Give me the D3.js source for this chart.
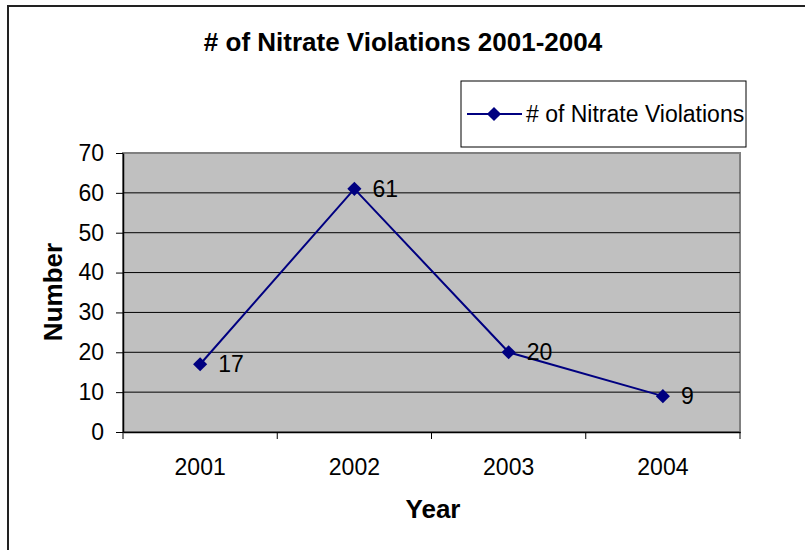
<!DOCTYPE html>
<html>
<head>
<meta charset="utf-8">
<script src="https://cdn.jsdelivr.net/npm/d3@7"></script>
<style>
  html, body { margin: 0; padding: 0; background: #fff; }
  svg { display: block; font-family: "Liberation Sans", Arial, sans-serif; }
</style>
</head>
<body>
<svg id="chart" width="805" height="550"></svg>
<script>
const years = ["2001", "2002", "2003", "2004"];
const violations = [17, 61, 20, 9];
const yTickValues = [0, 10, 20, 30, 40, 50, 60, 70];
const seriesName = "# of Nitrate Violations";
const chartTitle = "# of Nitrate Violations 2001-2004";
const xTitle = "Year";
const yTitle = "Number";

const svg = d3.select("#chart");
const W = 805, H = 550;
const plot = { left: 123, right: 740, top: 153, bottom: 432 };
const navy = "#000080";

// outer chart border
svg.append("rect")
  .attr("x", 8).attr("y", 6)
  .attr("width", W + 10).attr("height", H + 10)
  .attr("fill", "#fff").attr("stroke", "#222").attr("stroke-width", 2);

const x = d3.scaleBand().domain(years).range([plot.left, plot.right]).padding(0);
const y = d3.scaleLinear().domain([0, 70]).range([plot.bottom, plot.top]);

// plot area background
svg.append("rect")
  .attr("x", plot.left).attr("y", plot.top)
  .attr("width", plot.right - plot.left).attr("height", plot.bottom - plot.top)
  .attr("fill", "#c0c0c0").attr("stroke", "#808080").attr("stroke-width", 2);

// gridlines
svg.append("g").selectAll("line")
  .data(yTickValues.filter(v => v > 0 && v < 70))
  .join("line")
  .attr("x1", plot.left).attr("x2", plot.right)
  .attr("y1", d => y(d)).attr("y2", d => y(d))
  .attr("stroke", "#000").attr("stroke-width", 1);

// y axis
const yAxis = svg.append("g")
  .attr("transform", `translate(${plot.left},0)`)
  .call(d3.axisLeft(y).tickValues(yTickValues).tickSize(7).tickPadding(12).tickSizeOuter(0));
yAxis.select(".domain").attr("stroke", "#000").attr("stroke-width", 1.5);
yAxis.selectAll(".tick line").attr("stroke", "#000");
yAxis.selectAll("text").attr("font-size", 23).attr("fill", "#000")
  .attr("font-family", "'Liberation Sans', Arial, sans-serif");

// x axis (labels)
const xAxis = svg.append("g")
  .attr("transform", `translate(0,${plot.bottom})`)
  .call(d3.axisBottom(x).tickSize(0).tickPadding(27).tickSizeOuter(0));
xAxis.select(".domain").attr("stroke", "#000").attr("stroke-width", 1.5);
xAxis.selectAll("text").attr("font-size", 23).attr("fill", "#000")
  .attr("font-family", "'Liberation Sans', Arial, sans-serif");

// x boundary ticks
const boundaries = years.map(d => x(d)).concat([x.range()[1]]);
svg.append("g").selectAll("line")
  .data(boundaries)
  .join("line")
  .attr("x1", d => d).attr("x2", d => d)
  .attr("y1", plot.bottom).attr("y2", plot.bottom + 7)
  .attr("stroke", "#000").attr("stroke-width", 1);

// line
const cx = (d, i) => x(years[i]) + x.bandwidth() / 2;
const line = d3.line().x((d, i) => cx(d, i)).y(d => y(d));
svg.append("path")
  .datum(violations)
  .attr("d", line)
  .attr("fill", "none").attr("stroke", navy).attr("stroke-width", 2);

const diamond = d3.symbol().type(d3.symbolSquare).size(100);
svg.append("g").selectAll("path")
  .data(violations)
  .join("path")
  .attr("d", diamond)
  .attr("transform", (d, i) => `translate(${cx(d, i)},${y(d)}) rotate(45)`)
  .attr("fill", navy);

// data labels
svg.append("g").selectAll("text")
  .data(violations)
  .join("text")
  .attr("x", (d, i) => cx(d, i) + 18)
  .attr("y", d => y(d))
  .attr("dy", "0.35em")
  .attr("font-size", 23)
  .attr("fill", "#000")
  .text(d => d);

// title
svg.append("text")
  .attr("x", 403).attr("y", 51)
  .attr("text-anchor", "middle")
  .attr("font-size", 26).attr("font-weight", "bold")
  .text(chartTitle);

// axis titles
svg.append("text")
  .attr("x", 433).attr("y", 518)
  .attr("text-anchor", "middle")
  .attr("font-size", 26).attr("font-weight", "bold")
  .text(xTitle);

svg.append("text")
  .attr("transform", "translate(62,292) rotate(-90)")
  .attr("text-anchor", "middle")
  .attr("font-size", 26).attr("font-weight", "bold")
  .text(yTitle);

// legend
const lg = svg.append("g");
lg.append("rect")
  .attr("x", 461).attr("y", 81).attr("width", 285).attr("height", 66)
  .attr("fill", "#fff").attr("stroke", "#000").attr("stroke-width", 1);
lg.append("line")
  .attr("x1", 467).attr("x2", 522).attr("y1", 114).attr("y2", 114)
  .attr("stroke", navy).attr("stroke-width", 2);
lg.append("path")
  .attr("d", diamond)
  .attr("transform", "translate(494,114) rotate(45)")
  .attr("fill", navy);
lg.append("text")
  .attr("x", 526).attr("y", 114).attr("dy", "0.35em")
  .attr("font-size", 23).attr("fill", "#000")
  .text(seriesName);
</script>
</body>
</html>
